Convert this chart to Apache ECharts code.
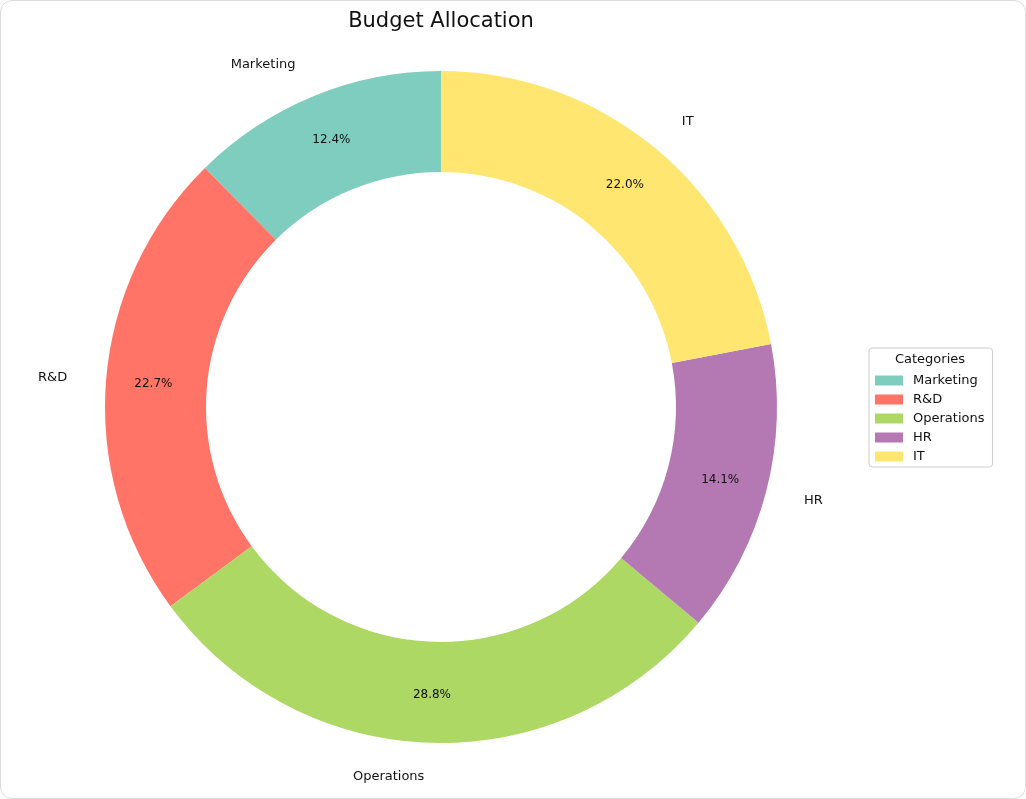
<!DOCTYPE html>
<html>
<head>
<meta charset="utf-8">
<script src="https://cdn.jsdelivr.net/npm/echarts@6/dist/echarts.min.js"></script>
<style>
  html, body { margin: 0; padding: 0; background: #fff; }
  #chart { width: 1024px; height: 797px; border: 1px solid #dcdcdc; border-radius: 12px; }
</style>
</head>
<body>
<div id="chart"></div>
<script>
// Budget donut
const categories = ['Marketing', 'R&D', 'Operations', 'HR', 'IT'];
const shares = [12.4, 22.7, 28.8, 14.1, 22.0];
const colors = ['#7fcdbe', '#ff7467', '#aed864', '#b479b3', '#ffe671'];

const FONT = 'DejaVu Sans';
const cx = 440, cy = 406;
const rIn = 235, rOut = 336;

const data = categories.map((name, i) => ({
    name: name,
    value: shares[i],
    itemStyle: { color: colors[i] }
}));

const chart = echarts.init(document.getElementById('chart'));
chart.setOption({
    animation: false,
    legend: {
        orient: 'vertical',
        left: 868, top: 347,
        data: categories,
        icon: 'rect',
        itemWidth: 28, itemHeight: 10,
        itemGap: 6,
        padding: [26, 8, 4, 6],
        borderColor: '#cccccc', borderWidth: 1, borderRadius: 3,
        textStyle: { fontFamily: FONT, fontSize: 13, color: '#111', padding: [0, 0, 0, 5] }
    },
    graphic: [
        {
            type: 'text',
            x: cx, y: 21,
            style: {
                text: 'Budget Allocation', fontFamily: FONT, fontSize: 21,
                fill: '#111', align: 'center', verticalAlign: 'middle'
            }
        },
        {
            type: 'text',
            x: 929, y: 359,
            style: {
                text: 'Categories', fontFamily: FONT, fontSize: 13,
                fill: '#111', align: 'center', verticalAlign: 'middle'
            }
        }
    ],
    series: [
        {
            // percentages inside the ring
            type: 'pie',
            center: [cx, cy],
            radius: [rIn, rOut],
            startAngle: 90,
            clockwise: false,
            avoidLabelOverlap: false,
            data: data,
            label: {
                position: 'inside',
                formatter: p => p.value.toFixed(1) + '%',
                fontFamily: FONT, fontSize: 12, color: '#111'
            },
            emphasis: { disabled: true }
        },
        {
            // category names outside
            type: 'pie',
            center: [cx, cy],
            radius: [rIn, rOut],
            startAngle: 90,
            clockwise: false,
            avoidLabelOverlap: false,
            silent: true,
            z: 1,
            data: categories.map((name, i) => ({ name: name, value: shares[i] })),
            itemStyle: { color: 'rgba(0,0,0,0)' },
            label: {
                show: true,
                position: 'outside',
                formatter: '{b}',
                fontFamily: FONT, fontSize: 13, color: '#111'
            },
            labelLine: { show: false, length: 34, length2: 0 },
            emphasis: { disabled: true }
        }
    ]
});
</script>
</body>
</html>
